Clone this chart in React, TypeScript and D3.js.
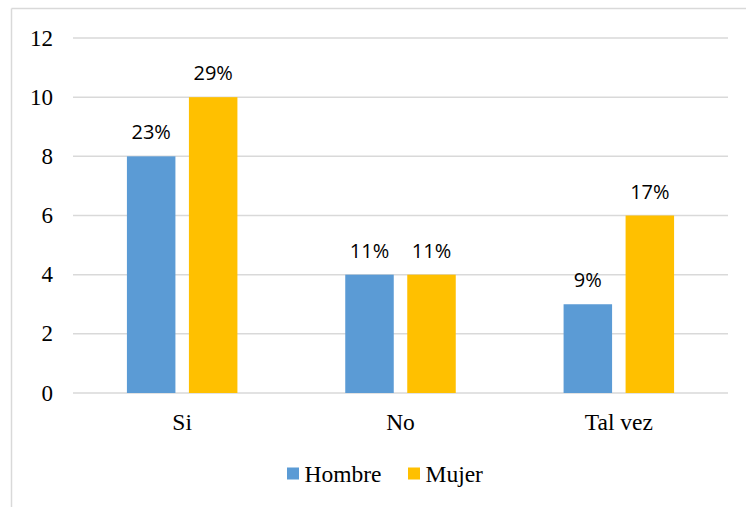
import React from "react";
import * as d3 from "d3";

const categories = ["Si", "No", "Tal vez"];
const seriesNames = ["Hombre", "Mujer"];
const hombre = [8, 4, 3];
const mujer = [10, 4, 6];
const hombreLabels = ["23%", "11%", "9%"];
const mujerLabels = ["29%", "11%", "17%"];
const yTicks = [0, 2, 4, 6, 8, 10, 12];
const colors = ["#5b9bd5", "#ffc000"];

const width = 746;
const height = 507;
const plot = { left: 73, right: 728, top: 38, bottom: 393 };
const serif = "'Liberation Serif', 'Times New Roman', serif";

export default function App() {
  const x = d3
    .scaleBand<string>()
    .domain(categories)
    .range([plot.left, plot.right]);
  const y = d3.scaleLinear().domain([0, 12]).range([plot.bottom, plot.top]);

  const barW = 48.5;
  const gap = 13.5;
  const series = [
    { name: seriesNames[0], values: hombre, labels: hombreLabels },
    { name: seriesNames[1], values: mujer, labels: mujerLabels },
  ];

  return (
    <svg
      width={width}
      height={height}
      style={{ position: "absolute", left: 0, top: 0, background: "#fff" }}
    >
      {/* chart frame */}
      <line x1={11.5} x2={width} y1={8.5} y2={8.5} stroke="#d9d9d9" strokeWidth={1.5} />
      <line x1={11.5} x2={11.5} y1={8.5} y2={height} stroke="#d9d9d9" strokeWidth={1.5} />

      {/* grid + y labels */}
      {yTicks.map((t) => (
        <g key={t}>
          <line
            x1={plot.left}
            x2={plot.right}
            y1={y(t)}
            y2={y(t)}
            stroke="#d9d9d9"
            strokeWidth={1.5}
          />
          <text
            x={53}
            y={y(t)}
            dy="0.33em"
            textAnchor="end"
            fontFamily={serif}
            fontSize={23}
            fill="#000"
          >
            {t}
          </text>
        </g>
      ))}

      {/* bars */}
      {series.map((s, si) =>
        categories.map((c, ci) => {
          const cx = (x(c) ?? 0) + x.bandwidth() / 2;
          const bx = si === 0 ? cx - gap / 2 - barW : cx + gap / 2;
          const top = y(s.values[ci]);
          return (
            <g key={s.name + c}>
              <rect
                x={bx}
                y={top}
                width={barW}
                height={y(0) - top}
                fill={colors[si]}
              />
              <text
                x={bx + barW / 2}
                y={top - 17}
                textAnchor="middle"
                fontFamily="'Open Sans', 'Noto Sans', sans-serif"
                fontSize={20}
                fill="#000"
              >
                {s.labels[ci]}
              </text>
            </g>
          );
        })
      )}

      {/* x labels */}
      {categories.map((c) => (
        <text
          key={c}
          x={(x(c) ?? 0) + x.bandwidth() / 2}
          y={430}
          textAnchor="middle"
          fontFamily={serif}
          fontSize={23.5}
          fill="#000"
        >
          {c}
        </text>
      ))}

      {/* legend */}
      {seriesNames.map((n, i) => {
        const lx = i === 0 ? 287 : 408;
        return (
          <g key={n}>
            <rect x={lx} y={467.5} width={12} height={12} fill={colors[i]} />
            <text
              x={lx + 17.5}
              y={481.5}
              fontFamily={serif}
              fontSize={23.5}
              fill="#000"
            >
              {n}
            </text>
          </g>
        );
      })}
    </svg>
  );
}
